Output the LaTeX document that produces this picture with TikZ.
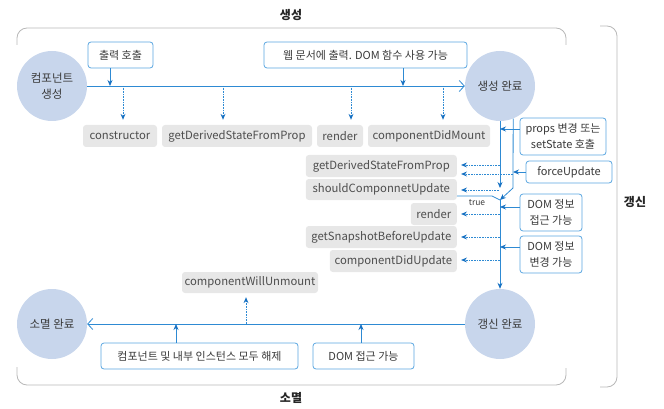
\documentclass[tikz,border=0pt]{standalone}
\usepackage{fontspec}
\setmainfont{Noto Sans CJK KR}
\usetikzlibrary{arrows.meta,calc}
\definecolor{lineblue}{HTML}{2E8AD3}
\definecolor{tipblue}{HTML}{1570C2}
\definecolor{boxblue}{HTML}{5AA6E0}
\definecolor{circfill}{HTML}{C8D6EC}
\definecolor{grayfill}{HTML}{E7E7E7}
\definecolor{framegray}{HTML}{B8B8B8}
\definecolor{txt}{HTML}{3A3A3A}
\tikzset{
  circ/.style={circle,fill=circfill,minimum size=70pt,inner sep=0pt,align=center,text=txt,font=\fontsize{11.5}{16}\selectfont},
  bbox/.style={draw=boxblue,line width=0.8pt,rounded corners=3pt,fill=white,inner sep=0pt,align=center,text=txt,font=\fontsize{11}{15.5}\selectfont},
  gbox/.style={fill=grayfill,rounded corners=3pt,inner sep=0pt,text=txt!90,font=\fontsize{11.3}{13}\selectfont},
  flow/.style={draw=lineblue,line width=0.8pt},
  arr/.style={flow,-{Stealth[length=6pt,width=5pt,color=tipblue]}},
  dotarr/.style={draw=lineblue,line width=0.6pt,densely dotted,-{Stealth[length=6pt,width=5pt,color=tipblue,line width=0pt]}},
  barb/.style={flow,-{Straight Barb[length=5pt,width=11pt]}},
  frame/.style={draw=framegray,line width=0.8pt,rounded corners=10pt},
  phase/.style={text=black!85,font=\bfseries\fontsize{12}{14}\selectfont}
}
\begin{document}
\begin{tikzpicture}[x=1pt,y=-1pt]
\useasboundingbox (0,0) rectangle (664,409);
% frames
\draw[frame] (17,45) |- (566,28) -- (566,45);
\draw[frame] (17,367) |- (566,385) -- (566,368);
\draw[frame] (600,26) -| (617,387) -- (600,387);
\node[phase] (lcreate) at (291,15) {생성};
\node[phase] (lunmount) at (291,398) {소멸};
\node[phase] (lupdate) at (635,202) {갱신};
% circles
\node[circ] (create) at (52,86) {컴포넌트\\생성};
\node[circ] (created) at (500,86) {생성 완료};
\node[circ] (updated) at (500,324) {갱신 완료};
\node[circ] (unmounted) at (52,324) {소멸 완료};
% blue boxes
\node[bbox,minimum width=65pt,minimum height=26pt] (b1) at (120.5,55) {출력 호출};
\node[bbox,minimum width=203pt,minimum height=26pt] (b2) at (365.5,55) {웹 문서에 출력. DOM 함수 사용 가능};
\node[bbox,minimum width=86pt,minimum height=37pt] (b3) at (563,136.5) {props 변경 또는\\setState 호출};
\node[bbox,minimum width=86pt,minimum height=22pt] (b4) at (569,172) {forceUpdate};
\node[bbox,minimum width=62pt,minimum height=37pt] (b5) at (551,212.5) {DOM 정보\\접근 가능};
\node[bbox,minimum width=62pt,minimum height=37pt] (b6) at (551,254.5) {DOM 정보\\변경 가능};
\node[bbox,minimum width=197pt,minimum height=26pt] (b7) at (199.5,356) {컴포넌트 및 내부 인스턴스 모두 해제};
\node[bbox,minimum width=101pt,minimum height=26pt] (b8) at (363.5,356) {DOM 접근 가능};
% gray boxes: mount
\node[gbox,minimum width=74pt,minimum height=22pt] (c1) at (120,136) {constructor};
\node[gbox,minimum width=150pt,minimum height=22pt] (c2) at (237,136) {getDerivedStateFromProp};
\node[gbox,minimum width=46pt,minimum height=22pt] (c3) at (340,136) {render};
\node[gbox,minimum width=122pt,minimum height=22pt] (c4) at (429,136) {componentDidMount};
% gray boxes: update
\node[gbox,minimum width=151pt,minimum height=22pt,anchor=east] (u1) at (457,166) {getDerivedStateFromProp};
\node[gbox,minimum width=151pt,minimum height=21pt,anchor=east] (u2) at (457,189.5) {shouldComponnetUpdate};
\node[gbox,minimum width=46pt,minimum height=22pt,anchor=east] (u3) at (457,214) {render};
\node[gbox,minimum width=151pt,minimum height=22pt,anchor=east] (u4) at (457,237) {getSnapshotBeforeUpdate};
\node[gbox,minimum width=127pt,minimum height=22pt,anchor=east] (u5) at (457,261) {componentDidUpdate};
% gray box: unmount
\node[gbox,minimum width=136pt,minimum height=21pt] (w1) at (250,282.5) {componentWillUnmount};
% main horizontal flows
\draw[barb] (create) -- (created);
\draw[barb] (updated) -- (unmounted);
% mount arrows
\coordinate (m1) at (110,86);
\coordinate (m2) at (403,86);
\draw[arr] (b1.south -| m1) -- (m1);
\draw[arr] (b2.south -| m2) -- (m2);
\foreach \x/\n in {123/c1,223/c2,351/c3,443/c4}{
  \draw[dotarr,shorten >=5pt] (\x,86) -- (\n.north -| \x,0);
}
% update lines
\coordinate (lbot) at (500,188);
\coordinate (rtop) at (created.-68);
\coordinate (rbot) at (513,188);
\coordinate (merge) at (500,200);
\coordinate (tbend) at (492,196);
\draw[arr] (created.south) -- (lbot);
\draw[flow] (rtop) -- (rbot);
\draw[arr] (rbot) -- (merge);
\draw[flow] (u2.east |- tbend) -- (tbend) -- (merge);
\node[text=txt,font=\fontsize{8.5}{9}\selectfont] (true) at (477,202.5) {true};
\draw[arr] (merge) -- (updated.north);
% box arrows in update
\draw[arr] (b3.west |- 0,129) -- (500,129);
\draw[arr] (b4.west) -- (513,172);
\draw[arr] (b5.west |- 0,207) -- (500,207);
\draw[arr] (b6.west |- 0,247) -- (500,247);
% dotted arrows in update
\draw[dotarr,shorten >=4pt] (500,165) -- (u1.east |- 0,165);
\draw[dotarr,shorten >=4pt] (513,174) -- (u1.east |- 0,174);
\draw[dotarr,shorten >=4pt] (499,190) -- (u2.east |- 0,190);
\draw[dotarr,shorten >=4pt] (500,214) -- (u3.east |- 0,214);
\draw[dotarr,shorten >=4pt] (500,237) -- (u4.east |- 0,237);
\draw[dotarr,shorten >=4pt] (500,260) -- (u5.east |- 0,260);
% unmount arrows
\coordinate (n1) at (176,324);
\coordinate (n2) at (361,324);
\draw[arr] (b7.north -| n1) -- (n1);
\draw[arr] (b8.north -| n2) -- (n2);
\draw[dotarr,shorten >=4pt] (246,324) -- (w1.south -| 246,0);
\end{tikzpicture}
\end{document}
